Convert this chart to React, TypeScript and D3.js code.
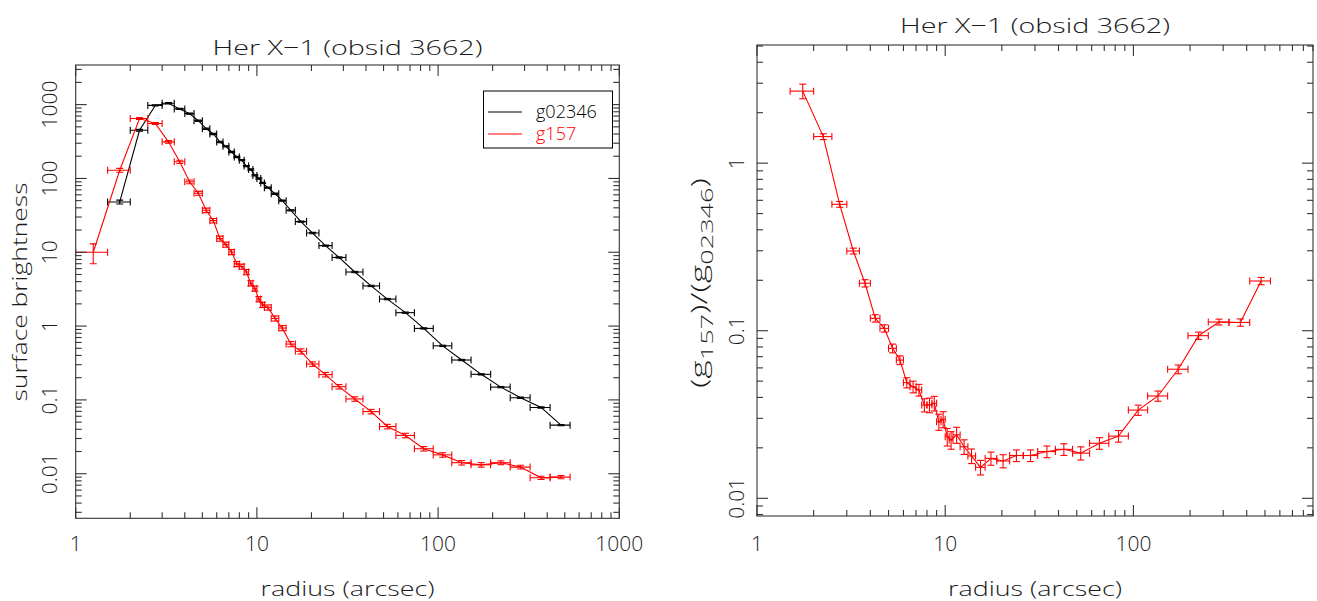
import React from "react";
import * as d3 from "d3";

// ---------- data ----------
const radius = [1.25, 1.75, 2.25, 2.75, 3.25, 3.75, 4.25, 4.75, 5.25, 5.75, 6.25, 6.75, 7.25, 7.75, 8.25, 8.75, 9.25, 9.75, 10.25, 10.75, 11.5, 12.6, 13.8, 15.4, 17.5, 20.3, 23.9, 28.4, 34.7, 42.7, 52.5, 66, 83.3, 106, 135, 173, 222, 285, 370, 477];
const binEdges = [1, 1.5, 2, 2.5, 3, 3.5, 4, 4.5, 5, 5.5, 6, 6.5, 7, 7.5, 8, 8.5, 9, 9.5, 10, 10.5, 11, 12, 13.2, 14.5, 16.3, 18.8, 22, 26, 31, 38.5, 47.5, 58.5, 74, 94, 119, 152, 195, 250, 322, 415, 535];

const g02346: (number | null)[] = [null, 48, 449, 975, 1045, 875, 755, 605, 472, 400, 312, 272, 228, 195, 177, 147, 132, 110, 100, 87, 75, 62, 50, 37, 26, 18.2, 12.3, 8.5, 5.4, 3.5, 2.32, 1.52, 0.93, 0.54, 0.347, 0.222, 0.149, 0.107, 0.079, 0.0455];
const g02346RelErr = [0, 0.06, 0.03, 0.02, 0.02, 0.02, 0.02, 0.02, 0.02, 0.02, 0.02, 0.02, 0.02, 0.02, 0.02, 0.02, 0.02, 0.02, 0.02, 0.02, 0.02, 0.02, 0.02, 0.02, 0.02, 0.02, 0.02, 0.02, 0.02, 0.02, 0.02, 0.02, 0.02, 0.02, 0.02, 0.02, 0.02, 0.02, 0.02, 0.02];

const g157: (number | null)[] = [10, 129, 647, 554, 313, 168, 90, 63, 37, 26.8, 15.3, 12.7, 10.1, 6.95, 6.4, 5.4, 3.81, 3.23, 2.32, 1.94, 1.79, 1.27, 0.94, 0.57, 0.455, 0.306, 0.22, 0.151, 0.103, 0.0695, 0.0436, 0.033, 0.0218, 0.018, 0.0141, 0.0132, 0.0141, 0.0123, 0.0088, 0.009];
const g157RelErr = [0.3, 0.06, 0.03, 0.03, 0.04, 0.05, 0.06, 0.06, 0.07, 0.07, 0.08, 0.08, 0.08, 0.08, 0.08, 0.08, 0.08, 0.08, 0.08, 0.08, 0.08, 0.08, 0.08, 0.08, 0.08, 0.07, 0.07, 0.07, 0.07, 0.07, 0.07, 0.07, 0.07, 0.07, 0.07, 0.07, 0.06, 0.06, 0.05, 0.05];

const ratio: (number | null)[] = [null, 2.69, 1.44, 0.568, 0.299, 0.192, 0.1186, 0.1033, 0.0785, 0.0668, 0.049, 0.0463, 0.0443, 0.036, 0.036, 0.0369, 0.0286, 0.0296, 0.0233, 0.0223, 0.0239, 0.0203, 0.0179, 0.0153, 0.0173, 0.0167, 0.018, 0.018, 0.019, 0.0196, 0.0186, 0.0213, 0.0235, 0.0336, 0.0408, 0.0589, 0.0934, 0.1127, 0.112, 0.198];
const ratioRelErr = [0, 0.1, 0.04, 0.04, 0.04, 0.05, 0.05, 0.05, 0.06, 0.06, 0.07, 0.08, 0.08, 0.09, 0.1, 0.1, 0.11, 0.11, 0.12, 0.12, 0.11, 0.1, 0.1, 0.1, 0.09, 0.09, 0.08, 0.08, 0.08, 0.08, 0.09, 0.08, 0.08, 0.07, 0.07, 0.06, 0.05, 0.04, 0.05, 0.05];

const leftXTicks = [1, 10, 100, 1000];
const leftXTickLabels = ["1", "10", "100", "1000"];
const leftYTicks = [0.01, 0.1, 1, 10, 100, 1000];
const leftYTickLabels = ["0.01", "0.1", "1", "10", "100", "1000"];
const rightXTicks = [1, 10, 100];
const rightXTickLabels = ["1", "10", "100"];
const rightYTicks = [0.01, 0.1, 1];
const rightYTickLabels = ["0.01", "0.1", "1"];

const titleText = "Her X\u22121 (obsid 3662)";
const xLabelText = "radius (arcsec)";
const leftYLabelText = "surface brightness";
const seriesNames = ["g02346", "g157"];

// ---------- style ----------
const W = 1317;
const H = 601;
const FONT = "'Open Sans', 'DejaVu Sans', sans-serif";
const FW = 300;
const TXT = "#1a1a1a";
const AXIS = "#333";
const RED = "#ff0000";
const BLACK = "#000000";

function logTicks(d0: number, d1: number) {
  const major: number[] = [];
  const minor: number[] = [];
  const k0 = Math.floor(Math.log10(d0));
  const k1 = Math.ceil(Math.log10(d1));
  for (let k = k0; k <= k1; k++) {
    for (let m = 1; m <= 9; m++) {
      const v = m * Math.pow(10, k);
      if (v < d0 * 0.9999 || v > d1 * 1.0001) continue;
      (m === 1 ? major : minor).push(v);
    }
  }
  return { major, minor };
}

type Scale = d3.ScaleLogarithmic<number, number>;

function Frame({ xs, ys }: { xs: Scale; ys: Scale }) {
  const [x0, x1] = xs.range();
  const [y1, y0] = ys.range();
  const xt = logTicks(xs.domain()[0], xs.domain()[1]);
  const yt = logTicks(ys.domain()[0], ys.domain()[1]);
  const MAJ = 11;
  const MIN = 6;
  const segs: JSX.Element[] = [];
  xt.major.concat(xt.minor).forEach((v, i) => {
    const L = xt.major.includes(v) ? MAJ : MIN;
    const x = xs(v);
    segs.push(<line key={"xb" + i} x1={x} x2={x} y1={y1} y2={y1 - L} />);
    segs.push(<line key={"xt" + i} x1={x} x2={x} y1={y0} y2={y0 + L} />);
  });
  yt.major.concat(yt.minor).forEach((v, i) => {
    const L = yt.major.includes(v) ? MAJ : MIN;
    const y = ys(v);
    segs.push(<line key={"yl" + i} x1={x0} x2={x0 + L} y1={y} y2={y} />);
    segs.push(<line key={"yr" + i} x1={x1} x2={x1 - L} y1={y} y2={y} />);
  });
  return (
    <g stroke={AXIS} strokeWidth={1.1} fill="none">
      <rect x={x0} y={y0} width={x1 - x0} height={y1 - y0} />
      {segs}
    </g>
  );
}

function Series({ xs, ys, values, relErr, color, clipId }: { xs: Scale; ys: Scale; values: (number | null)[]; relErr: number[]; color: string; clipId: string }) {
  const pts = radius
    .map((r, i) => ({ r, v: values[i], i }))
    .filter((p) => p.v !== null) as { r: number; v: number; i: number }[];
  const line = d3
    .line<{ r: number; v: number }>()
    .x((d) => xs(d.r))
    .y((d) => ys(d.v));
  const CAP = 3.5;
  return (
    <g clipPath={`url(#${clipId})`} stroke={color} fill="none" strokeWidth={1.1}>
      <path d={line(pts) || ""} />
      {pts.map((p) => {
        const cx = xs(p.r);
        const cy = ys(p.v);
        const xl = xs(binEdges[p.i]);
        const xr = xs(binEdges[p.i + 1]);
        const e = relErr[p.i];
        const yt = ys(p.v * (1 + e));
        const yb = ys(Math.max(p.v * (1 - e), 1e-9));
        return (
          <g key={p.i}>
            <line x1={xl} x2={xr} y1={cy} y2={cy} />
            <line x1={xl} x2={xl} y1={cy - CAP} y2={cy + CAP} />
            <line x1={xr} x2={xr} y1={cy - CAP} y2={cy + CAP} />
            <line x1={cx} x2={cx} y1={yt} y2={yb} />
            <line x1={cx - CAP} x2={cx + CAP} y1={yt} y2={yt} />
            <line x1={cx - CAP} x2={cx + CAP} y1={yb} y2={yb} />
          </g>
        );
      })}
    </g>
  );
}

export default function App() {
  // left panel
  const Lx = d3.scaleLog().domain([1, 1000]).range([75.7, 619.3]);
  const Ly = d3.scaleLog().domain([0.00249, 3440]).range([518.3, 65]);
  // right panel
  const Rx = d3.scaleLog().domain([1, 900]).range([757, 1313]);
  const Ry = d3.scaleLog().domain([0.00784, 5.07]).range([516, 45]);

  const lcx = (75.7 + 619.3) / 2;
  const rcx = (757 + 1313) / 2;

  const T = { fontWeight: FW, fill: TXT } as const;

  return (
    <svg width={W} height={H} style={{ position: "absolute", left: 0, top: 0, background: "#fff" }} fontFamily={FONT}>
      <defs>
        <clipPath id="clipL">
          <rect x={75.7} y={65} width={619.3 - 75.7} height={518.3 - 65} />
        </clipPath>
        <clipPath id="clipR">
          <rect x={757} y={45} width={1313 - 757} height={516 - 45} />
        </clipPath>
      </defs>
      <rect x={0} y={0} width={W} height={H} fill="#fff" />

      {/* ---------- left panel ---------- */}
      <Series xs={Lx} ys={Ly} values={g02346} relErr={g02346RelErr} color={BLACK} clipId="clipL" />
      <Series xs={Lx} ys={Ly} values={g157} relErr={g157RelErr} color={RED} clipId="clipL" />
      <Frame xs={Lx} ys={Ly} />
      <text x={lcx} y={55} textAnchor="middle" fontSize={21} {...T} textLength={270} lengthAdjust="spacingAndGlyphs">{titleText}</text>
      {leftXTicks.map((t, i) => (
        <text key={"lxl" + i} x={Lx(t)} y={551} textAnchor="middle" fontSize={21} {...T}>{leftXTickLabels[i]}</text>
      ))}
      {leftYTicks.map((t, i) => (
        <text key={"lyl" + i} transform={`translate(57,${Ly(t)}) rotate(-90)`} textAnchor="middle" fontSize={21} {...T}>{leftYTickLabels[i]}</text>
      ))}
      <text x={lcx} y={596} textAnchor="middle" fontSize={21} {...T} textLength={174} lengthAdjust="spacingAndGlyphs">{xLabelText}</text>
      <text transform={`translate(27,292) rotate(-90)`} textAnchor="middle" fontSize={21} {...T} textLength={219} lengthAdjust="spacingAndGlyphs">{leftYLabelText}</text>

      {/* legend */}
      <g>
        <rect x={483.5} y={91} width={129} height={57} fill="#fff" stroke={BLACK} strokeWidth={1} />
        <line x1={488} x2={522} y1={112} y2={112} stroke={BLACK} strokeWidth={1.1} />
        <text x={536} y={118} fontSize={18} fontWeight={FW} fill={BLACK}>{seriesNames[0]}</text>
        <line x1={488} x2={522} y1={134} y2={134} stroke={RED} strokeWidth={1.1} />
        <text x={536} y={140} fontSize={18} fontWeight={FW} fill={RED}>{seriesNames[1]}</text>
      </g>

      {/* ---------- right panel ---------- */}
      <Series xs={Rx} ys={Ry} values={ratio} relErr={ratioRelErr} color={RED} clipId="clipR" />
      <Frame xs={Rx} ys={Ry} />
      <text x={rcx} y={33} textAnchor="middle" fontSize={21} {...T} textLength={270} lengthAdjust="spacingAndGlyphs">{titleText}</text>
      {rightXTicks.map((t, i) => (
        <text key={"rxl" + i} x={Rx(t)} y={551} textAnchor="middle" fontSize={21} {...T}>{rightXTickLabels[i]}</text>
      ))}
      {rightYTicks.map((t, i) => (
        <text key={"ryl" + i} transform={`translate(744,${Ry(t)}) rotate(-90)`} textAnchor="middle" fontSize={21} {...T}>{rightYTickLabels[i]}</text>
      ))}
      <text x={rcx} y={596} textAnchor="middle" fontSize={21} {...T} textLength={174} lengthAdjust="spacingAndGlyphs">{xLabelText}</text>
      <text transform={`translate(707,283) rotate(-90)`} textAnchor="middle" fontSize={22} {...T} textLength={210} lengthAdjust="spacingAndGlyphs">
        <tspan>(g</tspan>
        <tspan fontSize={17} dy={6}>157</tspan>
        <tspan dy={-6}>)/(g</tspan>
        <tspan fontSize={17} dy={6}>02346</tspan>
        <tspan dy={-6}>)</tspan>
      </text>
    </svg>
  );
}
